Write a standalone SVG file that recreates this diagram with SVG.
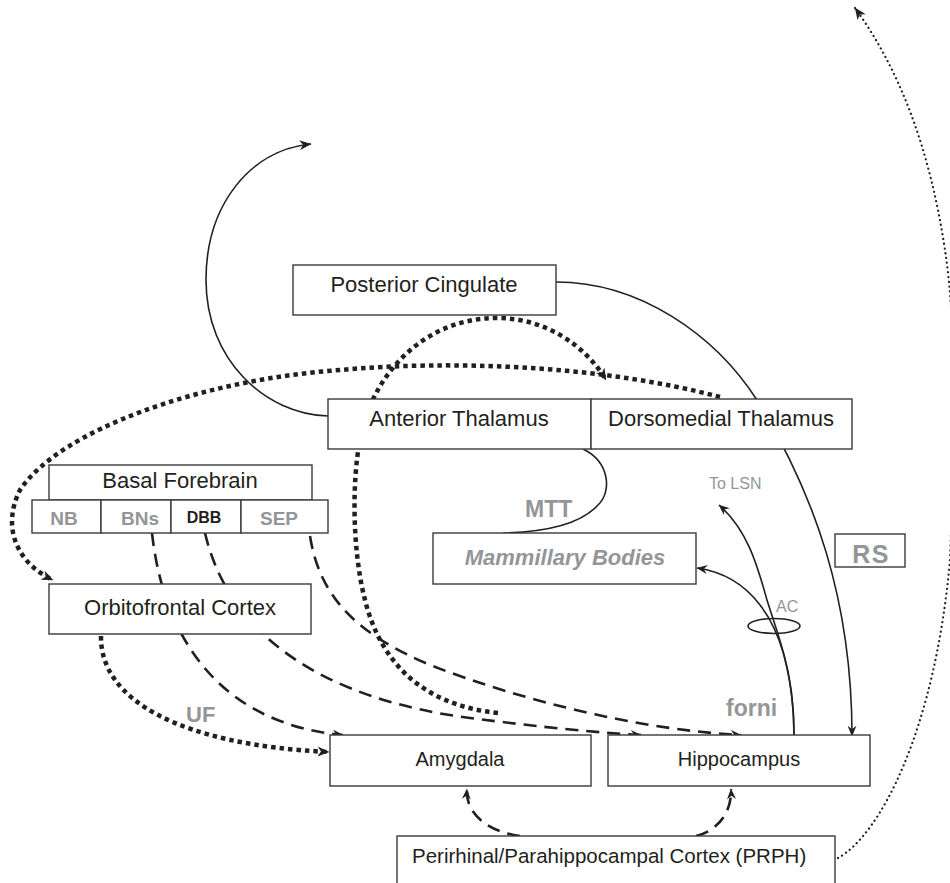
<svg xmlns="http://www.w3.org/2000/svg" width="950" height="883" viewBox="0 0 950 883">
<defs>
<marker id="ah" viewBox="0 0 12 10" refX="11.5" refY="5" markerWidth="12" markerHeight="10" markerUnits="userSpaceOnUse" orient="auto">
<path d="M0,0 L12,5 L0,10 L3.5,5 z" fill="#231f20"/>
</marker>
<marker id="ahs" viewBox="0 0 12 10" refX="11.5" refY="5" markerWidth="11" markerHeight="9" markerUnits="userSpaceOnUse" orient="auto">
<path d="M0,0 L12,5 L0,10 L4,5 z" fill="#231f20"/>
</marker>
</defs>
<style>
.box{fill:#fff;stroke:#3a3a3a;stroke-width:1.4}
.t{font-family:"Liberation Sans",Arial,sans-serif;fill:#231f20;text-anchor:middle}
.ts{font-family:"Liberation Sans",Arial,sans-serif;fill:#231f20;text-anchor:start}
.g{font-family:"Liberation Sans",Arial,sans-serif;fill:#939598;font-weight:bold}
.lg{font-family:"Liberation Sans",Arial,sans-serif;fill:#939598}
.solid{fill:none;stroke:#231f20;stroke-width:1.6}
.dash{fill:none;stroke:#231f20;stroke-width:2.6;stroke-dasharray:13 8}
.dot{fill:none;stroke:#231f20;stroke-width:4.5;stroke-dasharray:4.5 4}
.thin{fill:none;stroke:#231f20;stroke-width:2.2;stroke-dasharray:0.1 4.7;stroke-linecap:round}
</style>
<rect width="950" height="883" fill="#fff"/>
<g id="connectors">
<path class="solid" d="M328,416 C 265,414 206,360 206,280 C 206,205 250,150 311,144" marker-end="url(#ah)"/>
<path class="solid" d="M556,282 C 640,282 715,335 757,400 C 815,495 852,600 852,736" marker-end="url(#ahs)"/>
<path class="solid" d="M583,449 C 610,462 612,492 598,505 C 580,525 545,532 503,533"/>
<path class="solid" d="M794,735 C 794,670 776,630 767,600 C 758,568 748,530 719,505" marker-end="url(#ahs)"/>
<path class="solid" d="M794,735 C 794,670 778,628 760,605 C 745,585 725,572 697,568" marker-end="url(#ahs)"/>
<ellipse cx="774" cy="626" rx="26" ry="7.5" fill="none" stroke="#231f20" stroke-width="1.6"/>
<path class="dot" d="M720,397 C 600,365 450,360 340,370 C 200,380 60,430 20,490 C 0,530 20,565 53,580" marker-end="url(#ah)"/>
<path class="dot" d="M498,713 C 420,705 380,660 365,600 C 352,550 352,480 360,440 C 370,380 420,318 497,318 C 545,318 585,345 606,380" marker-end="url(#ah)"/>
<path class="dot" d="M101,636 C 100,700 180,745 329,752" marker-end="url(#ah)"/>
<path class="dash" d="M152,533 C 165,650 230,725 343,735" marker-end="url(#ahs)"/>
<path class="dash" d="M205,533 C 230,640 330,700 470,718 C 540,727 600,733 641,735" marker-end="url(#ahs)"/>
<path class="dash" d="M310,536 C 320,600 360,635 430,665 C 520,700 640,730 741,735" marker-end="url(#ahs)"/>
<path class="dash" d="M520,836 C 490,832 465,815 467,789" marker-end="url(#ahs)"/>
<path class="dash" d="M696,836 C 720,830 732,810 731,789" marker-end="url(#ahs)"/>
<path class="thin" d="M838,858 C 880,835 935,730 950,560 C 955,430 957,330 945,250 C 930,150 900,70 855,8" marker-end="url(#ah)"/>
</g>
<g id="posterior-cingulate"><rect class="box" x="293" y="265" width="263" height="50"/><text class="t" x="424" y="292" font-size="22">Posterior Cingulate</text></g>
<g id="anterior-thalamus"><rect class="box" x="328" y="399" width="263" height="50"/><text class="t" x="459" y="426" font-size="22">Anterior Thalamus</text></g>
<g id="dorsomedial-thalamus"><rect class="box" x="591" y="399" width="261" height="50"/><text class="t" x="721" y="426" font-size="22">Dorsomedial Thalamus</text></g>
<g id="basal-forebrain"><rect class="box" x="49" y="465" width="263" height="35"/><text class="t" x="180" y="488" font-size="22">Basal Forebrain</text></g>
<g id="nb"><rect class="box" x="32" y="500" width="69" height="33"/><text class="g" x="64" y="525" font-size="19" text-anchor="middle">NB</text></g>
<g id="bns"><rect class="box" x="101" y="500" width="70" height="33"/><text class="g" x="140" y="525" font-size="19" text-anchor="middle">BNs</text></g>
<g id="dbb"><rect class="box" x="171" y="500" width="70" height="33"/><text class="t" x="204" y="523" font-size="16" font-weight="bold">DBB</text></g>
<g id="sep"><rect class="box" x="241" y="500" width="87" height="33"/><text class="g" x="279" y="525" font-size="19" text-anchor="middle">SEP</text></g>
<g id="orbitofrontal"><rect class="box" x="49" y="584" width="262" height="50"/><text class="t" x="180" y="615" font-size="22">Orbitofrontal Cortex</text></g>
<g id="mammillary"><rect class="box" x="433" y="533" width="263" height="51"/><text class="g" x="565" y="565" font-size="22" font-style="italic" text-anchor="middle">Mammillary Bodies</text></g>
<g id="rs"><rect class="box" x="835" y="534" width="70" height="33"/><text class="g" x="871" y="563" font-size="25" letter-spacing="1.5" text-anchor="middle">RS</text></g>
<g id="amygdala"><rect class="box" x="330" y="735" width="261" height="51"/><text class="t" x="460" y="766" font-size="20">Amygdala</text></g>
<g id="hippocampus"><rect class="box" x="608" y="735" width="262" height="51"/><text class="t" x="739" y="766" font-size="20">Hippocampus</text></g>
<g id="prph"><rect class="box" x="397" y="836" width="438" height="60"/><text class="ts" x="412" y="863" font-size="20.5">Perirhinal/Parahippocampal Cortex (PRPH)</text></g>
<g id="labels">
<text class="g" x="525" y="517" font-size="23">MTT</text>
<text class="lg" x="709" y="489" font-size="16">To LSN</text>
<text class="lg" x="776" y="612" font-size="16">AC</text>
<text class="g" x="726" y="716" font-size="23">forni</text>
<text class="g" x="186" y="722" font-size="22">UF</text>
</g>
</svg>
